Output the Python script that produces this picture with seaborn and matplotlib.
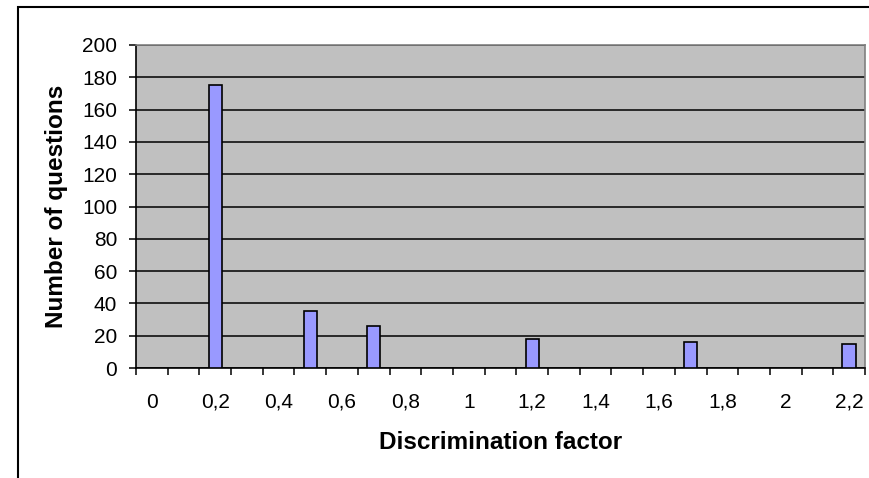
import matplotlib
matplotlib.use("Agg")
import matplotlib.pyplot as plt
import seaborn as sns
import pandas as pd
from matplotlib.patches import Rectangle

# Discrimination factor classes (0 to 2.2 in steps of 0.1) and counts
categories = ["0", "0,1", "0,2", "0,3", "0,4", "0,5", "0,6", "0,7", "0,8", "0,9",
              "1", "1,1", "1,2", "1,3", "1,4", "1,5", "1,6", "1,7", "1,8", "1,9",
              "2", "2,1", "2,2"]
bar_categories = ["0,2", "0,5", "0,7", "1,2", "1,7", "2,2"]
question_counts = [175, 35, 26, 18, 16, 15]
y_ticks = [0, 20, 40, 60, 80, 100, 120, 140, 160, 180, 200]

df = pd.DataFrame({"factor": bar_categories, "count": question_counts})

sns.set_style("white")
plt.rcParams["font.family"] = ["Liberation Sans", "DejaVu Sans"]
plt.rcParams.update({"text.color": "black", "axes.labelcolor": "black",
                     "xtick.color": "black", "ytick.color": "black"})

W, H = 869, 478
fig = plt.figure(figsize=(W / 100, H / 100), dpi=100)
ax_left, ax_right, ax_top, ax_bottom = 136, 865, 45, 368
ax = fig.add_axes([ax_left / W, 1 - ax_bottom / H,
                   (ax_right - ax_left) / W, (ax_bottom - ax_top) / H])

sns.barplot(data=df, x="factor", y="count", order=categories, ax=ax,
            color="#9999FF", saturation=1, width=0.42,
            edgecolor="black", linewidth=1.2, zorder=3)

ax.set_facecolor("#C0C0C0")
ax.set_xlim(-0.5, len(categories) - 0.5)
ax.set_ylim(0, 200)
ax.set_yticks(y_ticks)
ax.set_yticklabels([str(v) for v in y_ticks], fontsize=15)
ax.grid(axis="y", color="black", linewidth=1.1, zorder=1)
ax.set_axisbelow(True)

# tick marks on category boundaries, labels on every other category
ax.set_xticks([i - 0.5 for i in range(len(categories) + 1)])
ax.set_xticklabels([])
ax.set_xticks(list(range(0, len(categories), 2)), minor=True)
ax.set_xticklabels(categories[::2], minor=True, fontsize=15)
ax.tick_params(axis="x", which="major", direction="out", length=5, width=1.1,
               color="black", bottom=True)
ax.tick_params(axis="x", which="minor", length=0, pad=18, labelcolor="black")
ax.tick_params(axis="y", direction="out", length=5, width=1.1, color="black",
               left=True, pad=8.5, labelcolor="black")

for side in ["left", "bottom"]:
    ax.spines[side].set_color("black")
    ax.spines[side].set_linewidth(1.2)
for side in ["top", "right"]:
    ax.spines[side].set_color("#808080")
    ax.spines[side].set_linewidth(1.2)

axis_h = ax_bottom - ax_top
axis_w = ax_right - ax_left
ax.set_xlabel("Discrimination factor", fontsize=17.5, fontweight="bold",
              color="black")
ax.xaxis.label.set_va("baseline")
ax.xaxis.set_label_coords(0.5, (ax_bottom - 449) / axis_h)
ax.set_ylabel("Number of questions", fontsize=17.5, fontweight="bold",
              color="black")
ax.yaxis.label.set_va("center")
ax.yaxis.set_label_coords((56.5 - ax_left) / axis_w, 0.5)

# chart frame
fig.patches.append(Rectangle((18 / W, -0.1), 1.2, 1 - 7 / H + 0.1,
                             transform=fig.transFigure, fill=False,
                             edgecolor="black", linewidth=1.5))

fig.savefig("out.png", dpi=100, facecolor="white")
